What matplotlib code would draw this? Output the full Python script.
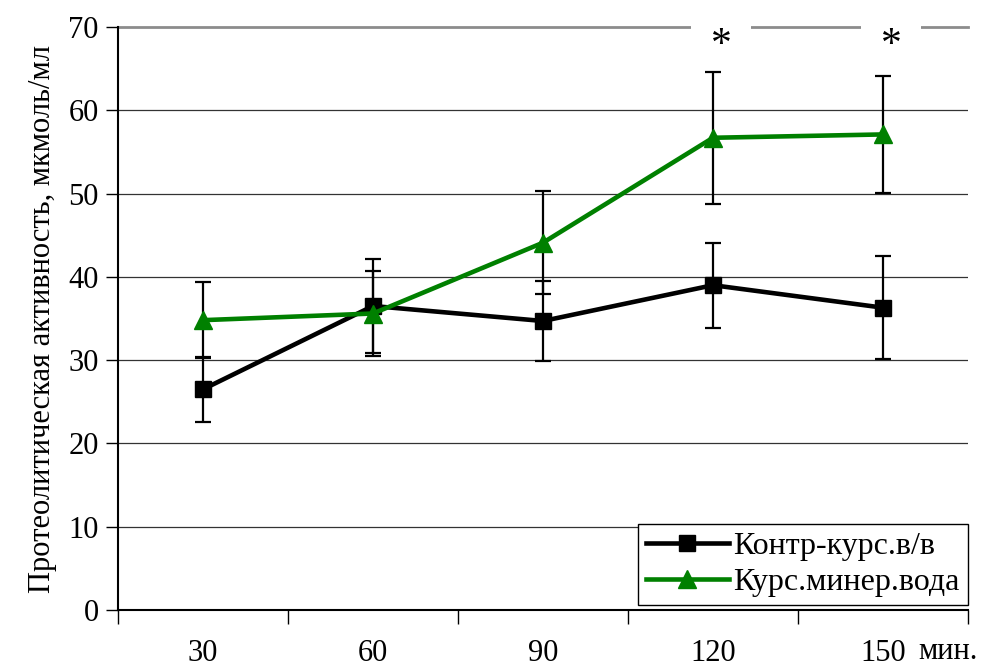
import matplotlib.pyplot as plt
import numpy as np

plt.rcParams['font.family'] = ['Liberation Serif', 'DejaVu Serif']

# Данные
minutes = ['30', '60', '90', '120', '150']
control = [26.5, 36.5, 34.7, 39.0, 36.3]
control_err = [3.9, 5.6, 4.8, 5.1, 6.2]
mineral = [34.8, 35.6, 44.1, 56.7, 57.1]
mineral_err = [4.6, 5.1, 6.2, 7.9, 7.0]
stars = [False, False, False, True, True]

x = np.arange(1, len(minutes) + 1)

fig = plt.figure(figsize=(9.86, 6.68), dpi=100)
ax = fig.add_axes([0.1197, 0.0868, 0.862, 0.8728])

# Сетка
for v in range(10, 70, 10):
    ax.axhline(v, color='#333333', lw=0.9, zorder=1)
ax.axhline(70, color='#8c8c8c', lw=2, zorder=1, clip_on=False)

# Погрешности (чёрные для обеих серий)
ax.errorbar(x, control, yerr=control_err, fmt='none', ecolor='black',
            elinewidth=1.6, capsize=5.8, capthick=1.6, zorder=3)
ax.errorbar(x, mineral, yerr=mineral_err, fmt='none', ecolor='black',
            elinewidth=1.6, capsize=5.8, capthick=1.6, zorder=3)

ax.plot(x, control, color='black', lw=3.3, marker='s', ms=11,
        label='Контр-курс.в/в', zorder=4)
ax.plot(x, mineral, color='#008000', lw=3.3, marker='^', ms=12.5,
        label='Курс.минер.вода', zorder=5)

# Звёздочки достоверности (белый фон прерывает верхнюю линию)
for xi, s in zip(x, stars):
    if s:
        ax.text(xi + 0.05, 67.8, '*', ha='center', va='center', fontsize=30,
                bbox=dict(facecolor='white', edgecolor='none', pad=14),
                zorder=2, clip_on=False)

ax.set_xlim(0.5, len(minutes) + 0.5)
ax.set_ylim(0, 70)
ax.set_yticks(range(0, 71, 10))
ax.set_xticks(np.arange(0.5, len(minutes) + 1, 1))
ax.set_xticklabels([])
ax.set_xticks(x, minor=True)
ax.set_xticklabels(minutes, minor=True)
ax.tick_params(axis='x', which='major', direction='out', length=10, width=1)
ax.tick_params(axis='x', which='minor', length=0, pad=21, labelsize=22)
ax.tick_params(axis='y', direction='out', length=9, width=1, labelsize=22, pad=5)
ax.text(5.38, -0.072, 'мин.', transform=ax.get_xaxis_transform(),
        ha='center', va='center', fontsize=22)

for side in ['top', 'right']:
    ax.spines[side].set_visible(False)
ax.spines['left'].set_linewidth(1.5)
ax.spines['bottom'].set_linewidth(1.5)

ax.set_ylabel('Протеолитическая активность, мкмоль/мл', fontsize=22, labelpad=8)

leg = ax.legend(loc='lower right', bbox_to_anchor=(1.0, 0.009), borderaxespad=0,
                fontsize=23, fancybox=False, shadow=False, framealpha=1,
                edgecolor='black', handlelength=2.6, handletextpad=0.15,
                borderpad=0.25, labelspacing=0.2)
leg.get_frame().set_linewidth(1)
leg.set_zorder(10)

fig.savefig('out.png', dpi=100)
